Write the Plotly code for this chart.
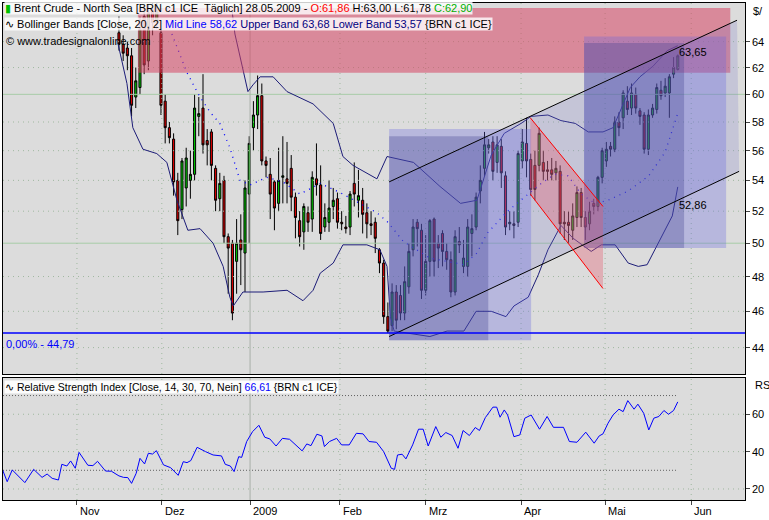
import plotly.graph_objects as go
import math

# ---------------- data ----------------
day = list(range(10, 144))
opn = [64.7,63.8,63.5,62.9,59.8,60.5,66.0,62.5,66.5,65.5,64.7,59.5,57.6,56.8,54.0,52.1,53.5,54.0,54.4,58.4,
       59.0,56.7,57.3,54.8,52.8,54.0,50.4,50.0,48.9,50.2,49.4,53.1,57.6,58.5,59.9,55.3,54.4,53.9,52.5,54.2,
       54.1,54.8,52.9,51.4,50.7,51.9,51.5,54.1,53.7,51.0,51.3,52.3,52.8,51.3,51.0,51.0,53.8,52.7,52.7,51.9,
       51.2,51.3,49.6,48.8,45.7,45.2,47.1,46.9,45.9,47.4,49.6,51.3,50.8,47.2,48.9,51.5,50.0,50.6,49.5,49.0,
       47.1,50.1,48.6,48.6,50.6,51.0,53.3,54.8,56.2,56.6,55.2,56.3,54.3,51.2,51.2,51.3,55.3,56.5,55.4,55.0,
       55.0,55.2,54.7,54.7,54.5,54.6,51.3,51.3,50.8,51.6,53.2,51.6,51.2,52.5,52.3,54.2,55.3,56.3,56.1,58.0,
       58.3,59.5,59.0,60.0,58.8,58.5,56.1,58.5,58.9,60.3,60.1,60.1,61.5,61.86]
high = [66.0,64.5,64.0,63.5,62.0,66.0,67.0,67.0,67.2,67.5,65.0,60.0,58.0,57.2,54.5,55.5,56.2,56.0,60.0,59.8,
        61.5,57.5,57.5,55.0,54.5,54.3,50.6,50.2,51.5,51.8,54.0,57.0,59.5,61.4,60.8,55.6,55.5,54.0,56.2,57.0,
        56.6,55.7,53.2,52.0,52.5,52.3,54.6,56.5,55.0,52.5,54.0,53.5,53.2,52.0,51.7,53.3,55.2,54.7,53.5,52.5,
        52.0,51.6,49.7,49.0,46.5,47.6,47.5,47.5,48.6,50.0,51.5,51.5,51.2,50.5,51.5,51.6,50.5,50.8,50.0,49.5,
        50.8,51.0,50.2,51.5,51.8,53.2,55.0,57.3,56.8,57.0,57.0,56.8,54.6,52.0,52.0,56.0,57.5,58.3,55.8,56.0,
        57.6,56.0,55.3,55.5,55.3,55.0,52.0,52.0,52.5,53.6,53.5,52.0,52.6,52.8,54.3,56.2,56.6,56.6,58.4,58.7,
        60.3,60.6,60.8,60.5,59.0,58.7,58.9,59.3,60.8,61.0,61.2,61.5,62.8,63.0]
low = [63.3,62.5,61.8,58.4,59.0,60.0,61.5,61.8,64.5,65.0,58.5,56.5,56.5,53.0,50.5,51.5,52.3,52.8,54.0,57.0,
       55.8,55.0,54.0,52.0,52.0,50.0,47.0,45.5,47.0,47.5,47.1,50.0,56.0,57.5,55.0,54.2,51.5,50.8,52.0,52.5,
       52.5,52.0,50.3,49.8,49.6,50.7,50.7,53.0,50.2,50.7,50.7,51.5,50.9,50.8,50.6,50.5,52.3,51.6,50.6,50.3,
       50.5,49.4,48.2,45.3,44.79,44.9,45.0,45.5,45.5,47.0,49.2,49.8,46.7,46.9,48.0,48.0,48.5,48.6,48.4,46.8,
       46.9,49.4,48.2,48.0,49.2,50.8,52.5,54.3,55.8,54.0,54.5,53.5,50.5,50.8,50.3,51.0,54.8,54.2,53.0,52.7,
       54.6,54.0,54.0,54.0,54.0,50.6,50.2,50.0,50.2,51.0,51.0,50.2,50.8,51.8,52.0,53.8,54.9,55.6,55.9,57.0,
       57.5,58.5,58.5,58.6,57.8,55.8,55.7,58.3,58.6,59.6,59.8,58.3,61.2,61.78]
cls = [63.8,63.1,62.9,59.2,61.0,65.0,62.2,66.3,65.5,66.5,59.2,57.6,56.9,53.9,51.4,55.3,55.5,54.4,59.0,58.6,
       56.4,56.4,55.0,52.7,53.8,50.4,49.7,45.9,50.0,49.6,53.5,56.5,58.5,59.9,55.3,55.0,53.1,52.2,54.0,54.3,
       53.8,52.9,51.6,50.4,52.3,51.3,54.2,53.7,50.6,51.6,52.2,52.7,51.3,51.2,50.9,53.1,53.1,53.0,51.8,51.2,
       51.1,50.3,48.8,45.7,44.9,47.1,45.5,45.9,47.7,49.5,51.0,50.9,47.2,48.9,51.4,48.9,49.7,49.5,49.0,47.1,
       50.4,49.9,49.1,51.0,50.9,52.9,54.0,56.4,56.4,54.6,56.4,54.5,51.0,51.3,51.1,55.8,56.6,55.3,53.4,53.4,
       57.2,54.6,54.6,54.4,54.8,51.2,51.2,51.1,51.7,53.2,51.6,51.0,52.0,52.3,54.2,56.0,56.1,56.1,58.0,57.6,
       60.1,58.9,60.1,59.0,58.4,56.1,58.5,59.0,60.5,59.9,60.6,61.3,62.0,62.9]

bb_up_day = [36.9,37.6,40.7,41.9,43.6,46.7,50,56.2,61,63.3,65.7,69,71.4,73.8,80.1,86.4,91.3,95.2,98.6,101.7,
             105.7,108.1,112.1,115.2,118.6,121.7,125.2,127.6,131.7,134,137.1,140.5,143]
bb_up = [66.5,64.6,60.2,60.7,61.3,61.3,60.2,59.3,57.9,55.6,55.0,54.5,54.1,55.6,55.2,53.6,52.5,52.7,55.7,57.2,
         57.9,58.4,58.5,58.1,57.9,57.3,57.3,57.6,60.5,61.3,62.1,63.3,63.68]
bb_mid_day = [22.6,26.2,29.3,31.7,34,36.4,38.8,41.2,45.2,49,53.1,57.9,62.6,67.4,71.4,74,77.7,84,92.1,95.2,97.6,
              102.5,106.4,110.5,113.7,116.9,120,123.3,126.4,131.2,136.1,140,143]
bb_mid = [64.6,61.6,59.8,58.7,57.9,56.2,54.0,53.7,54.2,53.9,53.1,53.8,53.2,52.5,51.9,51.3,50.1,49.1,48.7,49.4,
          50.6,52.0,52.9,53.8,54.4,54.3,53.1,52.5,52.7,53.3,54.3,55.9,58.62]
bb_lo_day = [9.8,11.9,13.3,15.7,19,21.4,23.8,26.4,29.3,32.4,34.8,36.4,37.2,39.5,41.9,44.3,50,53.8,56.2,57.9,61,
             63.3,69,72.1,73.8,74.6,75.5,84,88.1,92.1,95,98.6,102.1,104,107.4,109.8,112.1,115.2,118.1,122.4,
             124.8,128.1,131.2,133.6,135.7,138.6,141.7,143]
bb_lo = [63.8,60.8,57.6,56.1,55.8,55.2,52.7,50.8,50.9,50.0,48.6,46.8,46.3,47.1,47.1,47.1,47.2,46.6,47.2,48.2,48.8,
         49.9,49.9,49.6,48.6,45.7,44.9,44.6,44.9,44.9,46.0,46.0,45.7,46.3,46.8,48.1,49.6,51.1,50.3,49.5,
         49.9,49.9,48.8,48.6,48.7,50.1,51.7,53.57]

rsi_day = [-17.7,-16.6,-15.4,-12.4,-10.3,-8.3,-7.1,-5.9,-4.4,-3.6,-2.4,-1.5,-0.4,0.5,2.6,3.8,4.9,6.8,8.2,10,11.1,
           12.1,13,14.1,15,16.1,17,18,18.9,20.6,22.3,24.1,25.3,26.2,27.1,28.6,30.6,32.4,34.4,35.3,36.5,37.4,
           38.5,39.2,40.4,41.8,43.3,44.7,45.9,47.4,48.9,50.6,53.6,54.7,55.7,57.1,58.3,58.9,60.1,61.8,63,64.8,
           66.5,68.1,69.5,71.3,73,74.8,75.6,76.3,77.4,78.3,79.9,81.3,82.4,83.6,85.4,86.6,87.8,89.3,90.7,91.9,
           93.4,94.8,95.8,97.2,99,99.9,100.7,101.7,102.5,104,105.4,106.6,108.1,110.1,111.9,113.4,115.8,117.2,
           119,121.1,123.1,124.3,125.2,126.4,127.6,129,130,131.1,132.6,133.5,134.9,136.1,137.3,138.5,139.7,
           140.8,142,143]
rsi = [30.2,23.9,30.2,23.4,30.5,26.2,28,25.7,24.8,33.2,32.3,35,31.1,39.6,32.7,32.5,34.8,29.6,29.5,27,26.2,26.1,
       23,28.4,36.4,33.4,39.1,38.7,40.5,32.9,31.4,27.3,34.6,34.1,35.2,42.3,40,38.2,37.7,33.2,32.3,29.3,37.3,
       36.9,45.4,50.7,54.1,47.7,46.8,43,47.1,46.6,40.4,44.1,43.2,49.3,48.4,42.7,45.4,47.1,43.6,43.6,49.8,49.5,
       45.4,45,40,31.1,30.5,38.2,38.6,36.1,43.6,52,52,43,53.4,47.7,50.2,48.6,41.8,51.3,48.6,52.9,51.3,58.2,
       63.8,63.8,58.4,62.3,59.6,48,48.9,57.9,59.6,52,58.8,53,53,45.4,45,50.4,44.5,48.4,49.5,55.2,59.6,62.7,
       61.4,67.3,62.7,65.4,60.5,51.6,57.9,58.8,62,60,62,66.61]

month_day = [0, 20.2, 41.2, 62.6, 83, 105.7, 125.7, 146.2]
month_lbl = ["Nov", "Dez", "2009", "Feb", "Mrz", "Apr", "Mai", "Jun"]
price_ticks = [44, 46, 48, 50, 52, 54, 56, 58, 60, 62, 64]
rsi_ticks = [20, 40, 60]
support = 44.79

XR = [-17.6, 159]
PY = [42.6, 67.1]
RY = [14.1, 79.4]
FONT = "Liberation Sans"
L, R, T, B = 3, 24, 3, 20
W, H = 769, 520

def px(x):
    return (x - L) / (W - L - R)

def py(y):
    return (H - B - y) / (H - T - B)

fig = go.Figure()

def poly(xs, ys, color):
    fig.add_trace(go.Scatter(x=xs + [xs[0]], y=ys + [ys[0]], fill="toself", fillcolor=color,
                             line=dict(width=0), mode="lines", hoverinfo="skip", showlegend=False))

GRID = "#9fb89f"
for p in price_ticks:
    solid = p in (50, 60)
    fig.add_trace(go.Scatter(x=XR, y=[p, p], mode="lines", showlegend=False, hoverinfo="skip",
                             line=dict(color="#a8cca8" if solid else GRID, width=1,
                                       dash="solid" if solid else "1px,4px")))
for m in month_day:
    fig.add_trace(go.Scatter(x=[m, m], y=PY, mode="lines", showlegend=False, hoverinfo="skip",
                             line=dict(color="#a8b0a8" if m == 41.2 else GRID, width=1,
                                       dash="solid" if m == 41.2 else "1px,4px")))

fig.add_trace(go.Candlestick(x=day, open=opn, high=high, low=low, close=cls, showlegend=False,
                             whiskerwidth=0,
                             increasing=dict(line=dict(color="black", width=1), fillcolor="#00c800"),
                             decreasing=dict(line=dict(color="black", width=1), fillcolor="#e00000")))

fig.add_trace(go.Scatter(x=bb_up_day, y=bb_up, mode="lines", line=dict(color="#1c1c78", width=1), showlegend=False))
fig.add_trace(go.Scatter(x=bb_lo_day, y=bb_lo, mode="lines", line=dict(color="#1c1c78", width=1), showlegend=False))
fig.add_trace(go.Scatter(x=bb_mid_day, y=bb_mid, mode="lines", line=dict(color="#0000ff", width=1.3, dash="1px,5px"), showlegend=False))

poly([14.5, 155.5, 155.5, 14.5], [66.7, 66.7, 61.6, 61.6], "rgba(215,70,100,0.55)")
poly([74.3, 157.1, 157.6, 74.3], [53.9, 65.7, 54.6, 44.6], "rgba(120,120,200,0.22)")
poly([74.3, 108.1, 108.1, 74.3], [57.5, 57.5, 44.4, 44.4], "rgba(100,100,225,0.30)")
poly([74.3, 97.9, 97.9, 74.3], [57.0, 57.0, 44.4, 44.4], "rgba(60,60,140,0.30)")
poly([120.7, 154.5, 154.5, 120.7], [64.4, 64.4, 49.7, 49.7], "rgba(100,100,225,0.30)")
poly([120.7, 144.5, 144.5, 120.7], [63.9, 63.9, 49.7, 49.7], "rgba(60,60,140,0.30)")
poly([107.9, 125.2, 125.2, 107.9], [58.3, 52.3, 47.3, 53.1], "rgba(230,90,110,0.35)")
for xs, ys, c in [([74.3, 157.1], [53.9, 65.7], "black"), ([74.3, 157.6], [44.6, 54.6], "black"),
                  ([107.9, 125.2], [58.3, 52.3], "#ff0000"), ([107.9, 125.2], [53.1, 47.3], "#ff0000")]:
    fig.add_trace(go.Scatter(x=xs, y=ys, mode="lines", line=dict(color=c, width=1), showlegend=False, hoverinfo="skip"))
fig.add_trace(go.Scatter(x=XR, y=[support, support], mode="lines", line=dict(color="#0000ff", width=1.5),
                         showlegend=False, hoverinfo="skip"))

# RSI panel
for lv in rsi_ticks:
    fig.add_trace(go.Scatter(x=XR, y=[lv, lv], mode="lines", xaxis="x2", yaxis="y2",
                             line=dict(color=GRID, width=1, dash="1px,4px"), showlegend=False, hoverinfo="skip"))
for lv in (30, 70):
    fig.add_trace(go.Scatter(x=[-17.6, 143], y=[lv, lv], mode="lines", xaxis="x2", yaxis="y2",
                             line=dict(color="#606060", width=1, dash="1px,2px"), showlegend=False, hoverinfo="skip"))
for m in month_day:
    fig.add_trace(go.Scatter(x=[m, m], y=RY, mode="lines", xaxis="x2", yaxis="y2", showlegend=False,
                             hoverinfo="skip", line=dict(color="#a8b0a8" if m == 41.2 else GRID, width=1,
                                                          dash="solid" if m == 41.2 else "1px,4px")))
fig.add_trace(go.Scatter(x=rsi_day, y=rsi, mode="lines", xaxis="x2", yaxis="y2",
                         line=dict(color="#0000ff", width=1), showlegend=False))

axfont = dict(family=FONT, size=11, color="black")
fig.update_layout(
    width=W, height=H, margin=dict(l=L, r=R, t=T, b=B),
    paper_bgcolor="white", plot_bgcolor="#dcdcdc",
    font=axfont,
    xaxis=dict(domain=[0, 1], range=XR, showgrid=False, zeroline=False, rangeslider=dict(visible=False),
               showticklabels=False, showline=True, linecolor="black", mirror=True, anchor="y"),
    yaxis=dict(domain=[py(374), 1], type="log", range=[math.log10(PY[0]), math.log10(PY[1])],
               side="right", tickvals=price_ticks, showticklabels=False,
               ticks="outside", ticklen=4, showgrid=False, zeroline=False,
               showline=True, linecolor="black", mirror=True, anchor="x"),
    xaxis2=dict(domain=[0, 1], range=XR, showgrid=False, zeroline=False, anchor="y2",
                tickvals=month_day, showticklabels=False, ticks="outside", ticklen=4,
                showline=True, linecolor="black", mirror=True),
    yaxis2=dict(domain=[0, py(378)], range=RY, side="right", tickvals=rsi_ticks, showticklabels=False,
                ticks="outside", ticklen=4, showgrid=False, zeroline=False,
                showline=True, linecolor="black", mirror=True, anchor="x2"),
)

def txt(x, y, s, color="black", xa="left", ya="top", bg=None, size=11):
    d = dict(x=px(x), y=py(y), xref="paper", yref="paper", xanchor=xa, yanchor=ya, showarrow=False,
             text=s, align="left", font=dict(family=FONT, size=size, color=color))
    if bg:
        d["bgcolor"] = bg
        d["borderpad"] = 0
    return d

ann = []
for m, l in zip(month_day, month_lbl):
    ann.append(dict(x=m, y=py(503), xref="x2", yref="paper", text=l, showarrow=False, xanchor="left",
                    yanchor="top", xshift=1, font=axfont))
for p in price_ticks:
    ann.append(dict(x=1, y=math.log10(p), xref="paper", yref="y", text=str(p), showarrow=False,
                    xanchor="left", yanchor="middle", xshift=5, font=axfont))
for r in rsi_ticks:
    ann.append(dict(x=1, y=r, xref="paper", yref="y2", text=str(r), showarrow=False,
                    xanchor="left", yanchor="middle", xshift=5, font=axfont))
ann += [
    txt(4, 1, "<span style='color:#00c000'>▮</span> Brent Crude - North Sea [BRN c1 ICE  Täglich] 28.05.2009 - "
              "<span style='color:#ff0000'>O:61,86</span> H:63,00 L:61,78 <span style='color:#00b000'>C:62,90</span>",
        bg="rgba(255,255,255,0.8)"),
    txt(4, 17, "∿ Bollinger Bands [Close, 20, 2] <span style='color:#0000ff'>Mid Line 58,62</span> "
               "<span style='color:#000080'>Upper Band 63,68 Lower Band 53,57</span> {BRN c1 ICE}",
        bg="rgba(255,255,255,0.8)"),
    txt(4, 33, "© www.tradesignalonline.com"),
    txt(4, 336, "0,00% - 44,79", color="#0000ff"),
    txt(677, 52, "63,65", ya="middle"),
    txt(677, 205, "52,86", ya="middle"),
    txt(751, 3, "$/"),
    txt(753, 377, "RS"),
    txt(4, 380, "∿ Relative Strength Index [Close, 14, 30, 70, Nein] <span style='color:#0000ff'>66,61</span> {BRN c1 ICE}",
        bg="rgba(255,255,255,0.9)", size=10.5),
]
fig.update_layout(annotations=ann)
fig.write_html("out.html", config={"displayModeBar": False},
               post_script="document.body.style.margin='0px';document.body.style.overflow='hidden';")
